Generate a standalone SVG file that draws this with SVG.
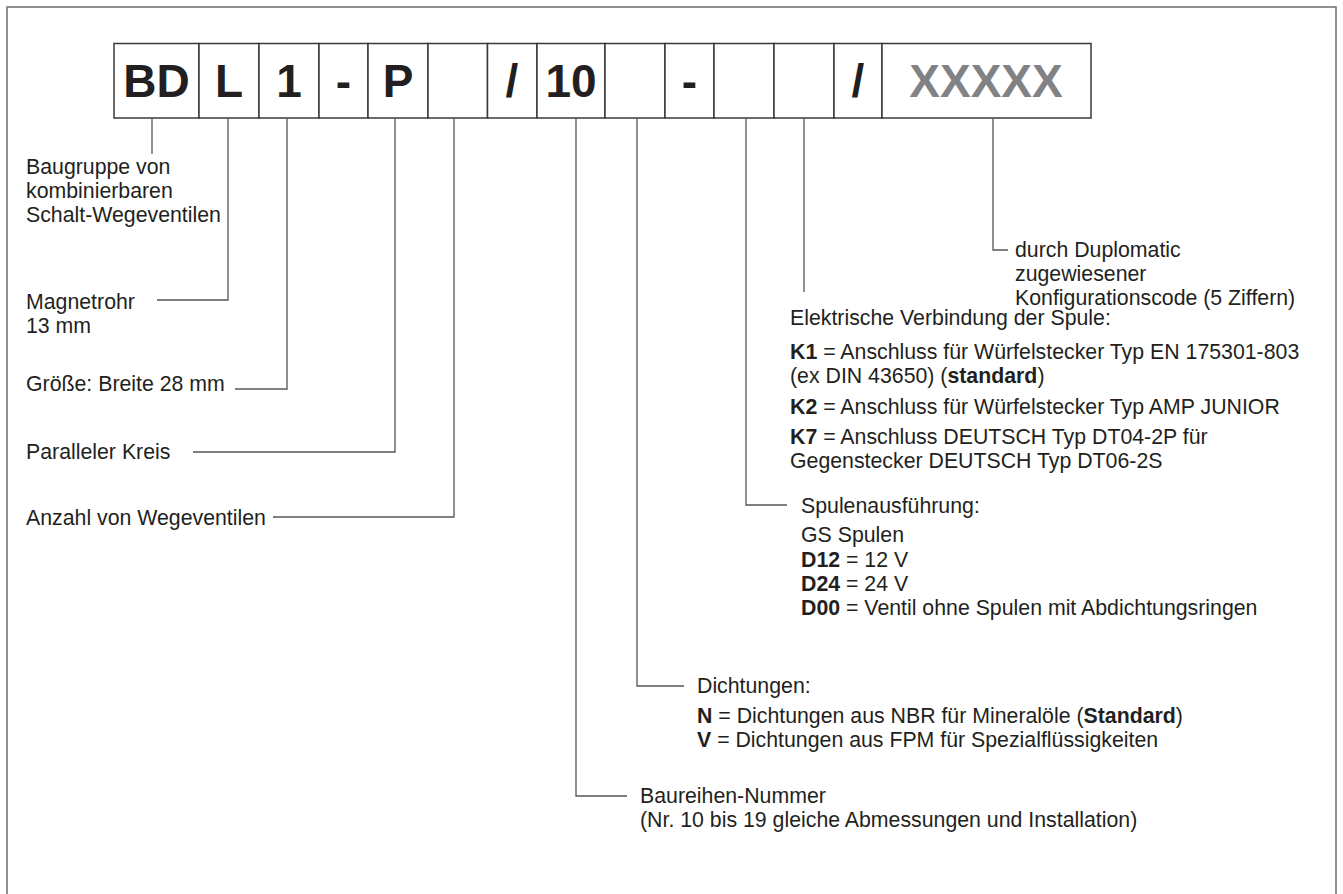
<svg xmlns="http://www.w3.org/2000/svg" width="1343" height="894" viewBox="0 0 1343 894">
<style>
.frame{fill:none;stroke:#6d6d6d;stroke-width:1.5}
.box{fill:#fff;stroke:#3a3a3a;stroke-width:1.5}
.code{font-family:"Liberation Sans",Arial,sans-serif;font-weight:bold;font-size:46px;fill:#231f20;text-anchor:middle}
.gray{fill:#808285}
.lbl{font-family:"Liberation Sans",Arial,sans-serif;font-size:21.3px;fill:#231f20}
.b{font-weight:bold}
.con{fill:none;stroke:#555;stroke-width:1.3}
</style>
<rect width="1343" height="894" fill="#fff"/>
<path class="frame" d="M7,894 V7 H1336 V894"/>
<g id="code">
<rect class="box" x="114" y="43.5" width="85" height="74.5"/>
<rect class="box" x="199" y="43.5" width="60" height="74.5"/>
<rect class="box" x="259" y="43.5" width="60" height="74.5"/>
<rect class="box" x="319" y="43.5" width="49" height="74.5"/>
<rect class="box" x="368" y="43.5" width="60" height="74.5"/>
<rect class="box" x="428" y="43.5" width="59.5" height="74.5"/>
<rect class="box" x="487.5" y="43.5" width="49.5" height="74.5"/>
<rect class="box" x="537" y="43.5" width="68" height="74.5"/>
<rect class="box" x="605" y="43.5" width="60" height="74.5"/>
<rect class="box" x="665" y="43.5" width="49" height="74.5"/>
<rect class="box" x="714" y="43.5" width="60" height="74.5"/>
<rect class="box" x="774" y="43.5" width="60" height="74.5"/>
<rect class="box" x="834" y="43.5" width="48" height="74.5"/>
<rect class="box" x="882" y="43.5" width="209" height="74.5"/>
<text class="code" x="156.5" y="97">BD</text>
<text class="code" x="229" y="97">L</text>
<text class="code" x="289" y="97">1</text>
<text class="code" x="343.5" y="97">-</text>
<text class="code" x="398" y="97">P</text>
<text class="code" x="512" y="97">/</text>
<text class="code" x="571" y="97">10</text>
<text class="code" x="689.5" y="97">-</text>
<text class="code" x="858" y="97">/</text>
<text class="code gray" x="986" y="97">XXXXX</text>
</g>
<g id="connectors">
<path class="con" d="M152,118 V154"/>
<path class="con" d="M228,118 V300 H157"/>
<path class="con" d="M287,118 V389 H235"/>
<path class="con" d="M395,118 V452 H193"/>
<path class="con" d="M454,118 V517 H273"/>
<path class="con" d="M576,118 V796 H627"/>
<path class="con" d="M637,118 V686 H684"/>
<path class="con" d="M746,118 V505 H787"/>
<path class="con" d="M804,118 V292"/>
<path class="con" d="M993,118 V250 H1008"/>
</g>
<g id="n-baugruppe">
<text class="lbl" x="26" y="174">Baugruppe von</text>
<text class="lbl" x="26" y="198">kombinierbaren</text>
<text class="lbl" x="26" y="222">Schalt-Wegeventilen</text>
</g>
<g id="n-magnetrohr">
<text class="lbl" x="26" y="309">Magnetrohr</text>
<text class="lbl" x="26" y="333">13 mm</text>
</g>
<g id="n-groesse">
<text class="lbl" x="26" y="391">Größe: Breite 28 mm</text>
</g>
<g id="n-parallel">
<text class="lbl" x="26" y="459">Paralleler Kreis</text>
</g>
<g id="n-anzahl">
<text class="lbl" x="26" y="525">Anzahl von Wegeventilen</text>
</g>
<g id="n-code">
<text class="lbl" x="1015" y="257">durch Duplomatic</text>
<text class="lbl" x="1015" y="281">zugewiesener</text>
<text class="lbl" x="1015" y="305">Konfigurationscode (5 Ziffern)</text>
</g>
<g id="n-elektrisch">
<text class="lbl" x="790" y="325">Elektrische Verbindung der Spule:</text>
<text class="lbl" x="790" y="359"><tspan class="b">K1</tspan> = Anschluss für Würfelstecker Typ EN 175301-803</text>
<text class="lbl" x="790" y="383">(ex DIN 43650) (<tspan class="b">standard</tspan>)</text>
<text class="lbl" x="790" y="414"><tspan class="b">K2</tspan> = Anschluss für Würfelstecker Typ AMP JUNIOR</text>
<text class="lbl" x="790" y="444"><tspan class="b">K7</tspan> = Anschluss DEUTSCH Typ DT04-2P für</text>
<text class="lbl" x="790" y="468">Gegenstecker DEUTSCH Typ DT06-2S</text>
</g>
<g id="n-spulen">
<text class="lbl" x="801" y="513">Spulenausführung:</text>
<text class="lbl" x="801" y="542">GS Spulen</text>
<text class="lbl" x="801" y="567"><tspan class="b">D12</tspan> = 12 V</text>
<text class="lbl" x="801" y="591"><tspan class="b">D24</tspan> = 24 V</text>
<text class="lbl" x="801" y="615"><tspan class="b">D00</tspan> = Ventil ohne Spulen mit Abdichtungsringen</text>
</g>
<g id="n-dichtungen">
<text class="lbl" x="697" y="693">Dichtungen:</text>
<text class="lbl" x="697" y="723"><tspan class="b">N</tspan> = Dichtungen aus NBR für Mineralöle (<tspan class="b">Standard</tspan>)</text>
<text class="lbl" x="697" y="747"><tspan class="b">V</tspan> = Dichtungen aus FPM für Spezialflüssigkeiten</text>
</g>
<g id="n-baureihe">
<text class="lbl" x="640" y="803">Baureihen-Nummer</text>
<text class="lbl" x="640" y="827">(Nr. 10 bis 19 gleiche Abmessungen und Installation)</text>
</g>
</svg>
